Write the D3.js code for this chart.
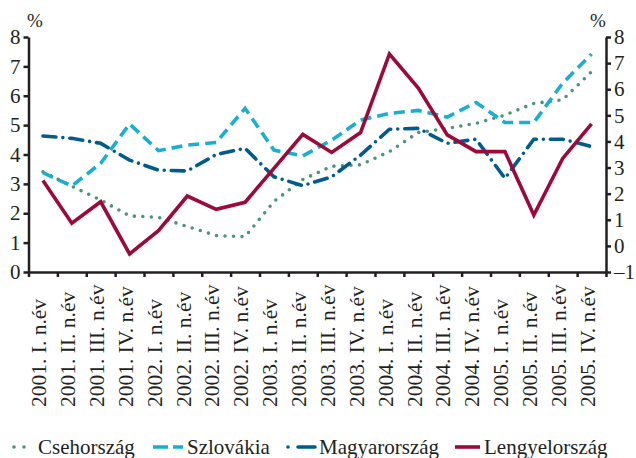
<!DOCTYPE html>
<html>
<head>
<meta charset="utf-8">
<script src="https://cdn.jsdelivr.net/npm/d3@7"></script>
<style>
  body { margin: 0; background: #fff; }
  svg text { font-family: 'Liberation Serif', 'Times New Roman', 'DejaVu Serif', serif !important; fill: #231f20; }
  .axis path, .axis line { stroke: #231f20; stroke-width: 2.5; }
</style>
</head>
<body>
<div class="chart"></div>
<script>
// quarters on the x axis
var quarters = [
  "2001. I. n.év", "2001. II. n.év", "2001. III. n.év", "2001. IV. n.év",
  "2002. I. n.év", "2002. II. n.év", "2002. III. n.év", "2002. IV. n.év",
  "2003. I. n.év", "2003. II. n.év", "2003. III. n.év", "2003. IV. n.év",
  "2004. I. n.év", "2004. II. n.év", "2004. III. n.év", "2004. IV. n.év",
  "2005. I. n.év", "2005. II. n.év", "2005. III. n.év", "2005. IV. n.év"
];

// left axis series
var cseh = [3.41, 2.92, 2.45, 1.91, 1.86, 1.55, 1.24, 1.2, 2.4, 3.15, 3.6, 3.65, 4.1, 4.75, 4.89, 5.06, 5.34, 5.74, 5.86, 6.82];
var szlovakia = [3.38, 2.93, 3.7, 5.04, 4.13, 4.32, 4.41, 5.57, 4.15, 3.95, 4.49, 5.17, 5.4, 5.5, 5.27, 5.77, 5.09, 5.09, 6.43, 7.42];
var magyar = [4.63, 4.55, 4.38, 3.81, 3.47, 3.44, 4.0, 4.21, 3.24, 2.94, 3.24, 3.98, 4.86, 4.89, 4.38, 4.52, 3.19, 4.52, 4.52, 4.27];
// right axis series
var lengyel = [2.5, 0.87, 1.69, -0.31, 0.58, 1.91, 1.4, 1.67, 2.97, 4.27, 3.58, 4.34, 7.35, 6.04, 4.25, 3.61, 3.61, 1.18, 3.35, 4.67];

// tick labels
var leftTicks = [0, 1, 2, 3, 4, 5, 6, 7, 8];
var rightTicks = [-1, 0, 1, 2, 3, 4, 5, 6, 7, 8];

var series = [
  {name: "Csehország", values: cseh, axis: "left", color: "#4d9478", dash: "0 8.5", legendDash: "0 10", cap: "round"},
  {name: "Szlovákia", values: szlovakia, axis: "left", color: "#1aafcf", dash: "11 6", legendDash: "15 5", cap: "butt"},
  {name: "Magyarország", values: magyar, axis: "left", color: "#005c8a", dash: "13 7 0 7", legendDash: "0 10 17", cap: "round"},
  {name: "Lengyelország", values: lengyel, axis: "right", color: "#9c0a3a", dash: null, legendDash: null, cap: "butt"}
];

var width = 636, height = 458;
var plotLeft = 28.5, plotRight = 606, plotTop = 37, plotBottom = 272;
var serif = "'Liberation Serif', 'Times New Roman', 'DejaVu Serif', serif";

var svg = d3.select(".chart").append("svg")
    .attr("width", width)
    .attr("height", height)
    .attr("font-family", serif);

// scales
var xScale = d3.scaleBand().domain(quarters).range([plotLeft, plotRight]);
var xEdges = d3.scaleLinear().domain([0, quarters.length]).range([plotLeft, plotRight]);
var yLeft = d3.scaleLinear().domain([0, 8]).range([plotBottom, plotTop]);
var yRight = d3.scaleLinear().domain([-1, 8]).range([plotBottom, plotTop]);

// axes
svg.append("g")
    .attr("class", "axis")
    .attr("transform", "translate(" + plotLeft + ",0)")
    .call(d3.axisLeft(yLeft).tickValues(leftTicks).tickSize(5).tickSizeOuter(0).tickPadding(3));

svg.append("g")
    .attr("class", "axis")
    .attr("transform", "translate(" + plotRight + ",0)")
    .call(d3.axisRight(yRight).tickValues(rightTicks).tickSize(5).tickSizeOuter(0).tickPadding(3)
        .tickFormat(function(d) { return d < 0 ? "\u2013" + Math.abs(d) : d; }));

svg.append("g")
    .attr("class", "axis")
    .attr("transform", "translate(0," + plotBottom + ")")
    .call(d3.axisBottom(xEdges).tickValues(d3.range(quarters.length + 1)).tickSize(5).tickSizeOuter(0).tickFormat(""));

svg.selectAll(".axis")
    .attr("font-family", serif)
    .attr("font-size", 21);

// category labels, rotated
svg.selectAll(".xlabel")
    .data(quarters)
    .enter().append("text")
    .attr("class", "xlabel")
    .attr("transform", function(d) {
        return "translate(" + (xScale(d) + xScale.bandwidth() / 2) + ",407) rotate(-90)";
    })
    .attr("dy", "0.15em")
    .attr("font-size", 21.5)
    .text(function(d) { return d; });

// % units
svg.append("text").attr("x", 35).attr("y", 27).attr("text-anchor", "middle").attr("font-size", 19).text("%");
svg.append("text").attr("x", 598).attr("y", 27).attr("text-anchor", "middle").attr("font-size", 19).text("%");

// lines
series.forEach(function(s) {
    var yScale = s.axis === "left" ? yLeft : yRight;
    var line = d3.line()
        .x(function(d, i) { return xScale(quarters[i]) + xScale.bandwidth() / 2; })
        .y(function(d) { return yScale(d); });
    svg.append("path")
        .datum(s.values)
        .attr("d", line)
        .attr("fill", "none")
        .attr("stroke", s.color)
        .attr("stroke-width", 3.6)
        .attr("stroke-linecap", s.cap)
        .attr("stroke-linejoin", "miter")
        .attr("stroke-dasharray", s.dash);
});

// legend
var legendX = [14, 153, 288, 455];
var legendLen = [20, 30, 27, 25];
var legend = svg.selectAll(".legend")
    .data(series)
    .enter().append("g")
    .attr("class", "legend")
    .attr("transform", function(d, i) { return "translate(" + legendX[i] + ",447)"; });

legend.append("line")
    .attr("x1", 0)
    .attr("x2", function(d, i) { return legendLen[i]; })
    .attr("stroke", function(d) { return d.color; })
    .attr("stroke-width", 3.6)
    .attr("stroke-linecap", function(d) { return d.cap; })
    .attr("stroke-dasharray", function(d) { return d.legendDash; });

legend.append("text")
    .attr("x", function(d, i) { return legendLen[i] + 4; })
    .attr("y", 6.5)
    .attr("font-size", 21)
    .text(function(d) { return d.name; });
</script>
</body>
</html>
